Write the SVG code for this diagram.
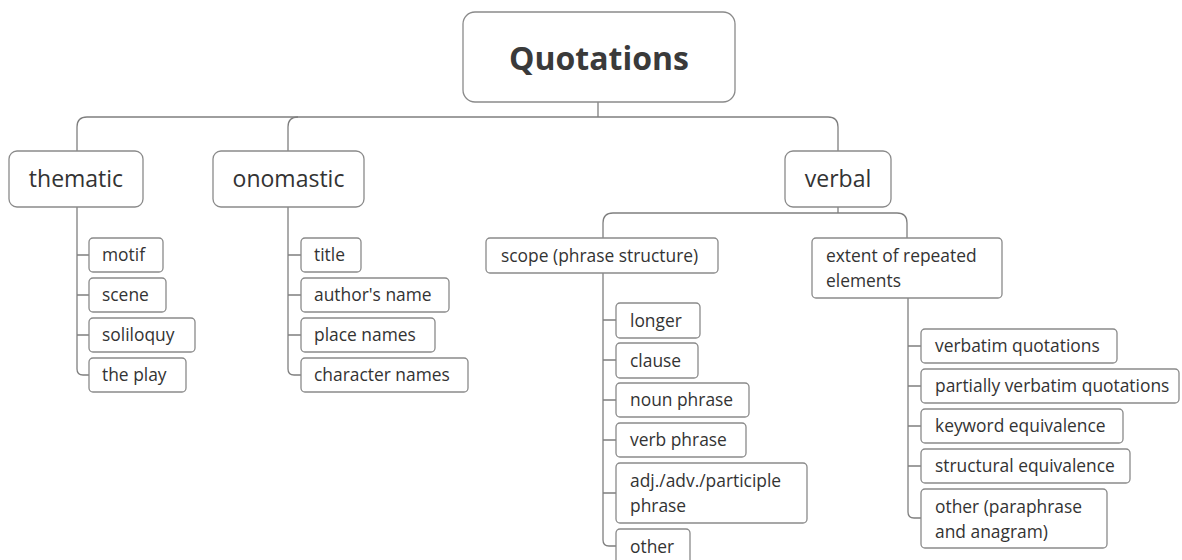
<svg xmlns="http://www.w3.org/2000/svg" width="1182" height="560" viewBox="0 0 1182 560">
<style>
.box{fill:#fff;stroke:#8a8a8a;stroke-width:1.3}
.c{fill:none;stroke:#7f7f7f;stroke-width:1.3}
text{font-family:"Open Sans","Noto Sans","Liberation Sans",sans-serif;fill:#333}
.s{font-size:17.4px}
.m{font-size:23px}
.r{font-size:32px;font-weight:bold;fill:#3a3a3a}
</style>
<rect width="1182" height="560" fill="#fff"/>
<g id="connectors">
<path class="c" d="M598,102 V117"/>
<path class="c" d="M77,151 V127 Q77,117 87,117 H828 Q838,117 838,127 V151"/>
<path class="c" d="M288,151 V127 Q288,117 298,117"/>
<path class="c" d="M838,207 V213"/>
<path class="c" d="M603,238 V223 Q603,213 613,213 H897 Q907,213 907,223 V238"/>
<path class="c" d="M77,207 V369 Q77,375 83,375 H89 M77,255 H89 M77,295 H89 M77,335 H89"/>
<path class="c" d="M288,207 V369 Q288,375 294,375 H301 M288,255 H301 M288,295 H301 M288,335 H301"/>
<path class="c" d="M603,273 V540 Q603,546 609,546 H616 M603,320 H616 M603,360 H616 M603,400 H616 M603,440 H616 M603,493 H616"/>
<path class="c" d="M908,298 V512 Q908,518 914,518 H921 M908,346 H921 M908,386 H921 M908,426 H921 M908,466 H921"/>
</g>
<g id="root"><rect class="box" x="463" y="12" width="272" height="90" rx="12"/><text class="r" x="599" y="70" text-anchor="middle">Quotations</text></g>
<g id="thematic"><rect class="box" x="9" y="151" width="134" height="56" rx="8"/><text class="m" x="76" y="187" text-anchor="middle">thematic</text></g>
<g id="onomastic"><rect class="box" x="213" y="151" width="151" height="56" rx="8"/><text class="m" x="288.5" y="187" text-anchor="middle">onomastic</text></g>
<g id="verbal"><rect class="box" x="785" y="151" width="106" height="56" rx="8"/><text class="m" x="838" y="187" text-anchor="middle">verbal</text></g>
<g id="motif"><rect class="box" x="89" y="238" width="74" height="34" rx="4"/><text class="s" x="102" y="261">motif</text></g>
<g id="scene"><rect class="box" x="89" y="278" width="77" height="34" rx="4"/><text class="s" x="102" y="301">scene</text></g>
<g id="soliloquy"><rect class="box" x="89" y="318" width="106" height="34" rx="4"/><text class="s" x="102" y="341">soliloquy</text></g>
<g id="theplay"><rect class="box" x="89" y="358" width="97" height="34" rx="4"/><text class="s" x="102" y="381">the play</text></g>
<g id="title"><rect class="box" x="301" y="238" width="60" height="34" rx="4"/><text class="s" x="314" y="261">title</text></g>
<g id="author"><rect class="box" x="301" y="278" width="148" height="34" rx="4"/><text class="s" x="314" y="301">author's name</text></g>
<g id="place"><rect class="box" x="301" y="318" width="134" height="34" rx="4"/><text class="s" x="314" y="341">place names</text></g>
<g id="character"><rect class="box" x="301" y="358" width="167" height="34" rx="4"/><text class="s" x="314" y="381">character names</text></g>
<g id="scope"><rect class="box" x="486" y="238" width="232" height="35" rx="4"/><text class="s" x="501" y="262">scope (phrase structure)</text></g>
<g id="extent"><rect class="box" x="812" y="238" width="190" height="60" rx="4"/><text class="s" x="826" y="262">extent of repeated</text><text class="s" x="826" y="287">elements</text></g>
<g id="longer"><rect class="box" x="616" y="303" width="84" height="35" rx="4"/><text class="s" x="630" y="327">longer</text></g>
<g id="clause"><rect class="box" x="616" y="343" width="82" height="35" rx="4"/><text class="s" x="630" y="367">clause</text></g>
<g id="noun"><rect class="box" x="616" y="383" width="133" height="34" rx="4"/><text class="s" x="630" y="406">noun phrase</text></g>
<g id="verbp"><rect class="box" x="616" y="423" width="130" height="34" rx="4"/><text class="s" x="630" y="446">verb phrase</text></g>
<g id="adj"><rect class="box" x="616" y="463" width="191" height="60" rx="4"/><text class="s" x="630" y="487">adj./adv./participle</text><text class="s" x="630" y="512">phrase</text></g>
<g id="other1"><rect class="box" x="616" y="529" width="74" height="35" rx="4"/><text class="s" x="630" y="553">other</text></g>
<g id="verbatim"><rect class="box" x="921" y="329" width="196" height="34" rx="4"/><text class="s" x="935" y="352">verbatim quotations</text></g>
<g id="partial"><rect class="box" x="921" y="369" width="258" height="34" rx="4"/><text class="s" x="935" y="392">partially verbatim quotations</text></g>
<g id="keyword"><rect class="box" x="921" y="409" width="202" height="34" rx="4"/><text class="s" x="935" y="432">keyword equivalence</text></g>
<g id="structural"><rect class="box" x="921" y="449" width="209" height="34" rx="4"/><text class="s" x="935" y="472">structural equivalence</text></g>
<g id="other2"><rect class="box" x="921" y="489" width="186" height="59" rx="4"/><text class="s" x="935" y="513">other (paraphrase</text><text class="s" x="935" y="538">and anagram)</text></g>
</svg>
